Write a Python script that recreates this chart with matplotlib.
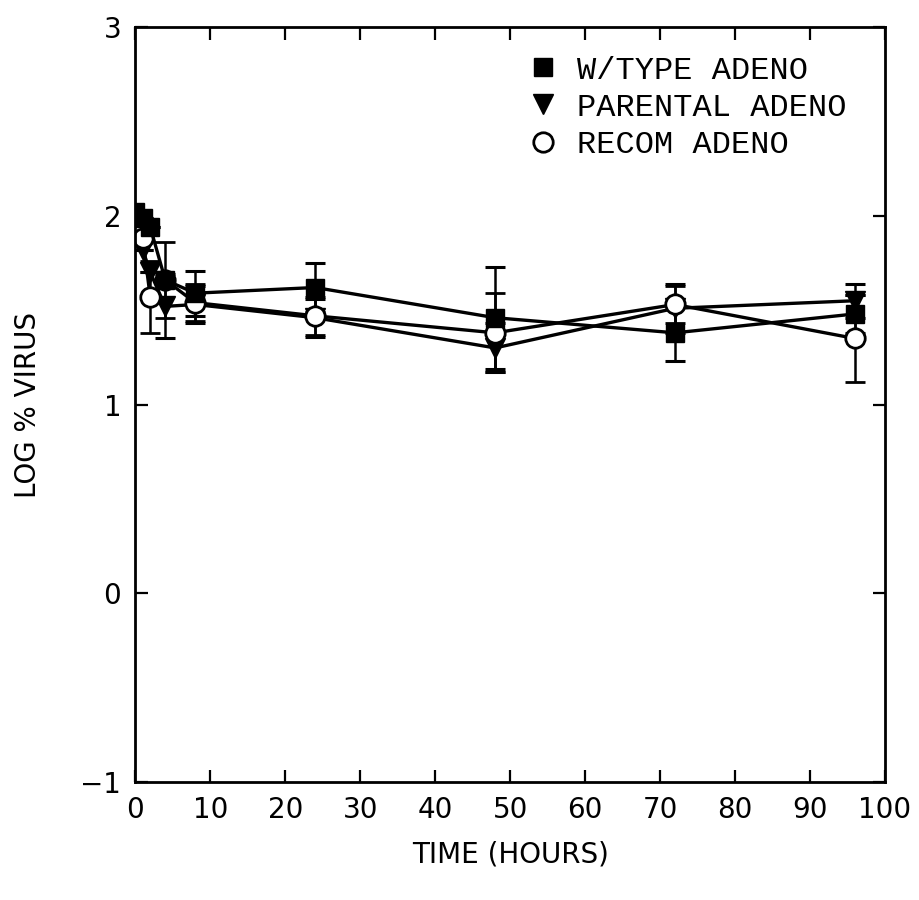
import numpy as np
import matplotlib
matplotlib.use('Agg')
import matplotlib.pyplot as plt

# Sampling times (hours)
hours = [0, 1, 2, 4, 8, 24, 48, 72, 96]

# Log % virus remaining for each adenovirus
wtype_log = [2.02, 1.99, 1.94, 1.66, 1.59, 1.62, 1.46, 1.38, 1.48]
wtype_err = [0.0, 0.0, 0.0, 0.0, 0.12, 0.13, 0.27, 0.15, 0.10]

parental_log = [1.98, 1.82, 1.70, 1.52, 1.53, 1.46, 1.30, 1.51, 1.55]
parental_err = [0.0, 0.0, 0.0, 0.17, 0.10, 0.10, 0.13, 0.13, 0.09]

recom_log = [1.93, 1.88, 1.57, 1.66, 1.54, 1.47, 1.38, 1.53, 1.35]
recom_err = [0.0, 0.0, 0.19, 0.20, 0.10, 0.10, 0.21, 0.10, 0.23]

series_labels = ['W/TYPE ADENO', 'PARENTAL ADENO', 'RECOM ADENO']

fig = plt.figure(figsize=(9.2, 9.0), dpi=100)
ax = fig.add_axes([0.147, 0.131, 0.815, 0.839])

common = dict(color='black', lw=2.4, elinewidth=1.8, capsize=7, capthick=2.2)
ax.errorbar(hours, parental_log, yerr=parental_err, marker='v', ms=15,
            mfc='black', mec='black', label=series_labels[1], **common)
ax.errorbar(hours, recom_log, yerr=recom_err, marker='o', ms=14,
            mfc='white', mec='black', mew=2, label=series_labels[2], **common)
ax.errorbar(hours, wtype_log, yerr=wtype_err, marker='s', ms=13,
            mfc='black', mec='black', label=series_labels[0], **common)

ax.set_xlim(0, 100)
ax.set_ylim(-1, 3)
ax.set_xticks(np.arange(0, 101, 10))
ax.set_yticks([-1, 0, 1, 2, 3])
ax.set_yticklabels(['\u22121', '0', '1', '2', '3'])
ax.tick_params(direction='in', top=True, right=True, length=9, width=1.6,
               labelsize=20, pad=10)
for sp in ax.spines.values():
    sp.set_linewidth(2)

ax.set_xlabel('TIME (HOURS)', fontsize=20, labelpad=12)
ax.set_ylabel('LOG % VIRUS', fontsize=20, labelpad=28)

# legend: W/TYPE, PARENTAL, RECOM top to bottom
handles, labels = ax.get_legend_handles_labels()
order = [2, 0, 1]
handles = [handles[i][0] for i in order]
labels = [labels[i] for i in order]
leg = ax.legend(handles, labels, loc='upper left', bbox_to_anchor=(0.515, 0.979),
                frameon=False, handlelength=0.55, handletextpad=0.8,
                labelspacing=0.22, borderaxespad=0.0,
                prop={'family': 'Liberation Mono', 'size': 23})
for h in leg.legend_handles:
    h.set_linestyle('None')

fig.savefig('out.png', dpi=100)
